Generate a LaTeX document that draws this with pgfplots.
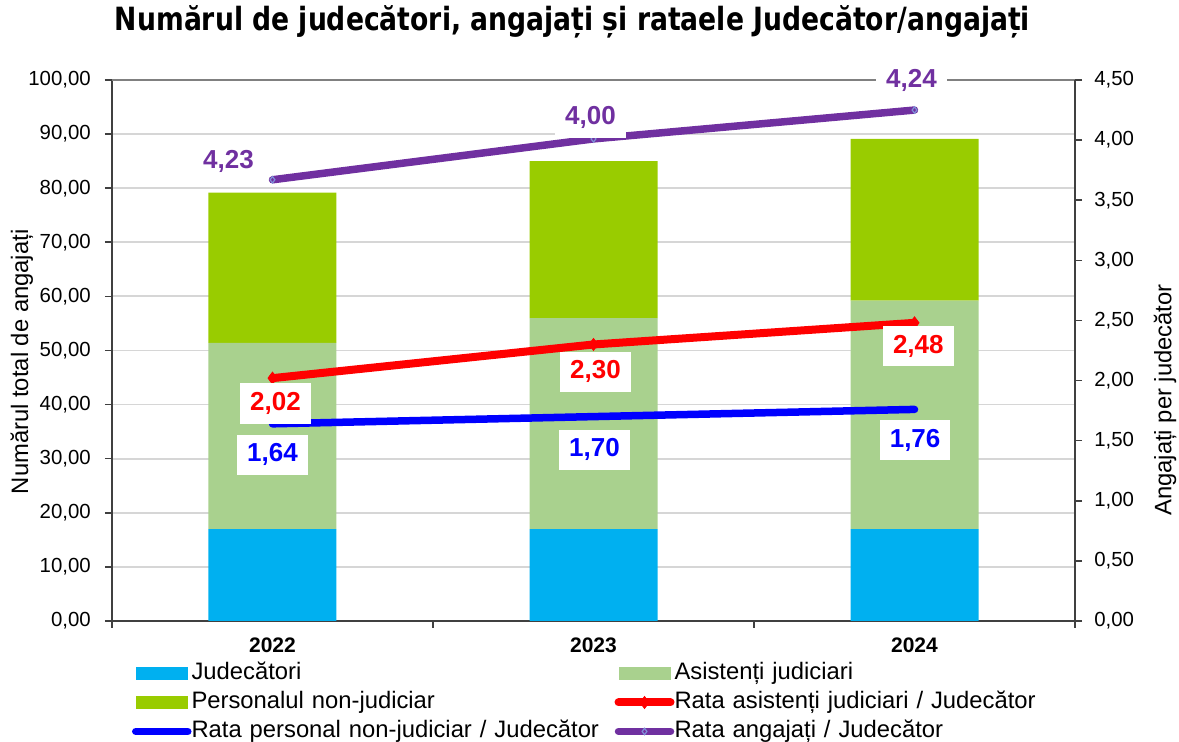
\documentclass[border=0pt]{standalone}
\usepackage{fontspec}
\setmainfont{Liberation Sans}
\newfontfamily\titlefont{DejaVu Sans}
\usepackage{graphicx}
\usepackage{pgfplots}
\usepackage{pgfplotstable}
\pgfplotsset{compat=1.18}

\definecolor{cJud}{HTML}{00B0F0}
\definecolor{cAsist}{HTML}{A9D18E}
\definecolor{cPers}{HTML}{99CC00}
\definecolor{cRed}{HTML}{FF0000}
\definecolor{cBlue}{HTML}{0000FF}
\definecolor{cPurple}{HTML}{7030A0}
\definecolor{cMark}{HTML}{7F8FD8}
\definecolor{cAxis}{HTML}{404040}

% bars: judecatori, asistenti, personal non-judiciar (stacked)
\pgfplotstableread{
x jud asist pers
1 17.0 34.4 27.8
2 17.0 39.0 29.0
3 17.0 42.2 29.9
}\bars

% rates (right axis); dx/dy = label offset in pt
\pgfplotstableread{
x y lbl dx dy
1 2.02 2,02 1.5 -12.7
2 2.30 2,30 1.0 -13.7
3 2.48 2,48 1.9 -11.6
}\rrate
\pgfplotstableread{
x y lbl dx dy
1 1.64 1,64 0.0 -15.5
2 1.70 1,70 0.5 -16.6
3 1.76 1,76 0.3 -15.5
}\brate
\pgfplotstableread{
x y lbl dx dy
1 3.67 4,23 -22.0 9.0
2 4.01 4,00 -1.5 10.5
3 4.25 4,24 -1.5 15.0
}\prate

\pgfplotsset{
  barlegend/.style={legend image code/.code={\fill[##1] (0pt,-3.25pt) rectangle (26pt,3.25pt);}},
  linelegend/.style={legend image code/.code={\draw[mark repeat=2,mark phase=2,##1] plot coordinates {(0pt,0pt)(13pt,0pt)(26pt,0pt)};}},
  ratelabels/.style={
    nodes near coords, point meta=explicit symbolic,
    visualization depends on={\thisrow{dx}\as\dx},
    visualization depends on={\thisrow{dy}\as\dy},
    nodes near coords style={anchor=center, fill=white, text=#1,
      font=\bfseries\fontsize{13}{15}\selectfont, inner xsep=5pt, inner ysep=4.5pt,
      xshift=\dx pt, yshift=\dy pt},
  },
  common/.style={
    at={(0,0)}, anchor=south west,
    scale only axis, width=481.5pt, height=270.5pt,
    xmin=0.5, xmax=3.5, enlargelimits=false,
    tick align=outside, major tick length=3.5pt, minor tick length=3.5pt,
    axis line style={-, draw=cAxis, line width=1pt},
    tick style={draw=cAxis, line width=0.8pt},
    /pgf/number format/assume math mode=true,
  },
}

\begin{document}
\begin{tikzpicture}
\useasboundingbox (-56pt,-60.5pt) rectangle (533.5pt,310.5pt);

\begin{axis}[
  common,
  ybar stacked, bar width=64pt,
  ymin=0, ymax=100, ytick={0,10,...,100},
  xtick={1,2,3}, xticklabels={2022,2023,2024},
  minor xtick={0.5,1.5,2.5,3.5},
  major x tick style={draw=none},
  axis x line*=bottom, axis y line*=left,
  ymajorgrids, grid style={draw=black!16, line width=0.9pt},
  extra y ticks={100}, extra y tick labels={},
  extra y tick style={grid style={draw=black!50, line width=1pt}},
  xticklabel style={font=\bfseries\fontsize{10.5}{12}\selectfont, yshift=-1.5pt},
  yticklabel style={font=\fontsize{10.2}{12}\selectfont, xshift=-3.6pt,
    /pgf/number format/.cd, fixed, fixed zerofill, precision=2, use comma, 1000 sep={}},
  ylabel={Numărul total de angajați},
  ylabel style={at={(axis description cs:-0.0935,0.479)}, anchor=center,
    font=\fontsize{11.9}{13}\selectfont},
  title={\resizebox{457.5pt}{\height}{\titlefont\bfseries\fontsize{16}{19}\selectfont Numărul de judecători, angajați și rataele Judecător/angajați}},
  title style={at={(axis description cs:0.4782,1.0684)}, anchor=base, inner sep=0pt},
]
\addplot[fill=cJud, draw=none] table[x=x, y=jud] {\bars};
\addplot[fill=cAsist, draw=none] table[x=x, y=asist] {\bars};
\addplot[fill=cPers, draw=none] table[x=x, y=pers] {\bars};
\end{axis}

\begin{axis}[
  common,
  ymin=0, ymax=4.5, ytick={0,0.5,1,1.5,2,2.5,3,3.5,4,4.5},
  axis x line=none, axis y line*=right,
  yticklabel style={font=\fontsize{10.2}{12}\selectfont, xshift=2.6pt,
    /pgf/number format/.cd, fixed, fixed zerofill, precision=2, use comma, 1000 sep={}},
  ylabel={Angajați per judecător},
  ylabel style={at={(axis description cs:1.0935,0.4085)}, anchor=center,
    font=\fontsize{11.9}{13}\selectfont},
  legend columns=2, legend cell align=left,
  legend style={at={(axis description cs:0.0208,-0.0739)}, anchor=north west,
    draw=none, fill=none, inner sep=0pt, outer sep=0pt, row sep=2pt,
    font=\fontsize{11.9}{13}\selectfont,
    nodes={inner xsep=0pt, inner ysep=0pt, text height=9.5pt, text depth=3pt, text width=211.5pt}},
]
\addlegendimage{barlegend, fill=cJud, draw=none}
\addlegendimage{barlegend, fill=cAsist, draw=none}
\addlegendimage{barlegend, fill=cPers, draw=none}
\addlegendimage{linelegend, draw=cRed, line width=4pt, line cap=round,
  mark=diamond*, mark size=3pt, mark options={solid, line width=0.4pt, draw=cRed, fill=cRed}}
\addlegendimage{linelegend, draw=cBlue, line width=3.75pt, line cap=round}
\addlegendimage{linelegend, draw=cPurple, line width=3.75pt, line cap=round,
  mark=diamond, mark size=1.6pt, mark options={solid, line width=0.6pt, draw=cMark, fill=cPurple}}

\addplot[forget plot, draw=cBlue, line width=3.75pt, line cap=round, ratelabels=cBlue]
  table[x=x, y=y, meta=lbl] {\brate};
\addplot[forget plot, draw=cRed, line width=4pt, line cap=round,
  mark=diamond*, mark size=3pt, mark options={solid, line width=0.4pt, draw=cRed, fill=cRed},
  ratelabels=cRed]
  table[x=x, y=y, meta=lbl] {\rrate};
\addplot[forget plot, draw=cPurple, line width=3.75pt, line cap=round,
  mark=diamond, mark size=1.6pt, mark options={solid, line width=0.6pt, draw=cMark, fill=cPurple},
  ratelabels=cPurple]
  table[x=x, y=y, meta=lbl] {\prate};

\legend{Judecători, Asistenți judiciari, Personalul non-judiciar,
  Rata asistenți judiciari / Judecător, Rata personal non-judiciar / Judecător,
  Rata angajați / Judecător}
\end{axis}
\end{tikzpicture}
\end{document}
